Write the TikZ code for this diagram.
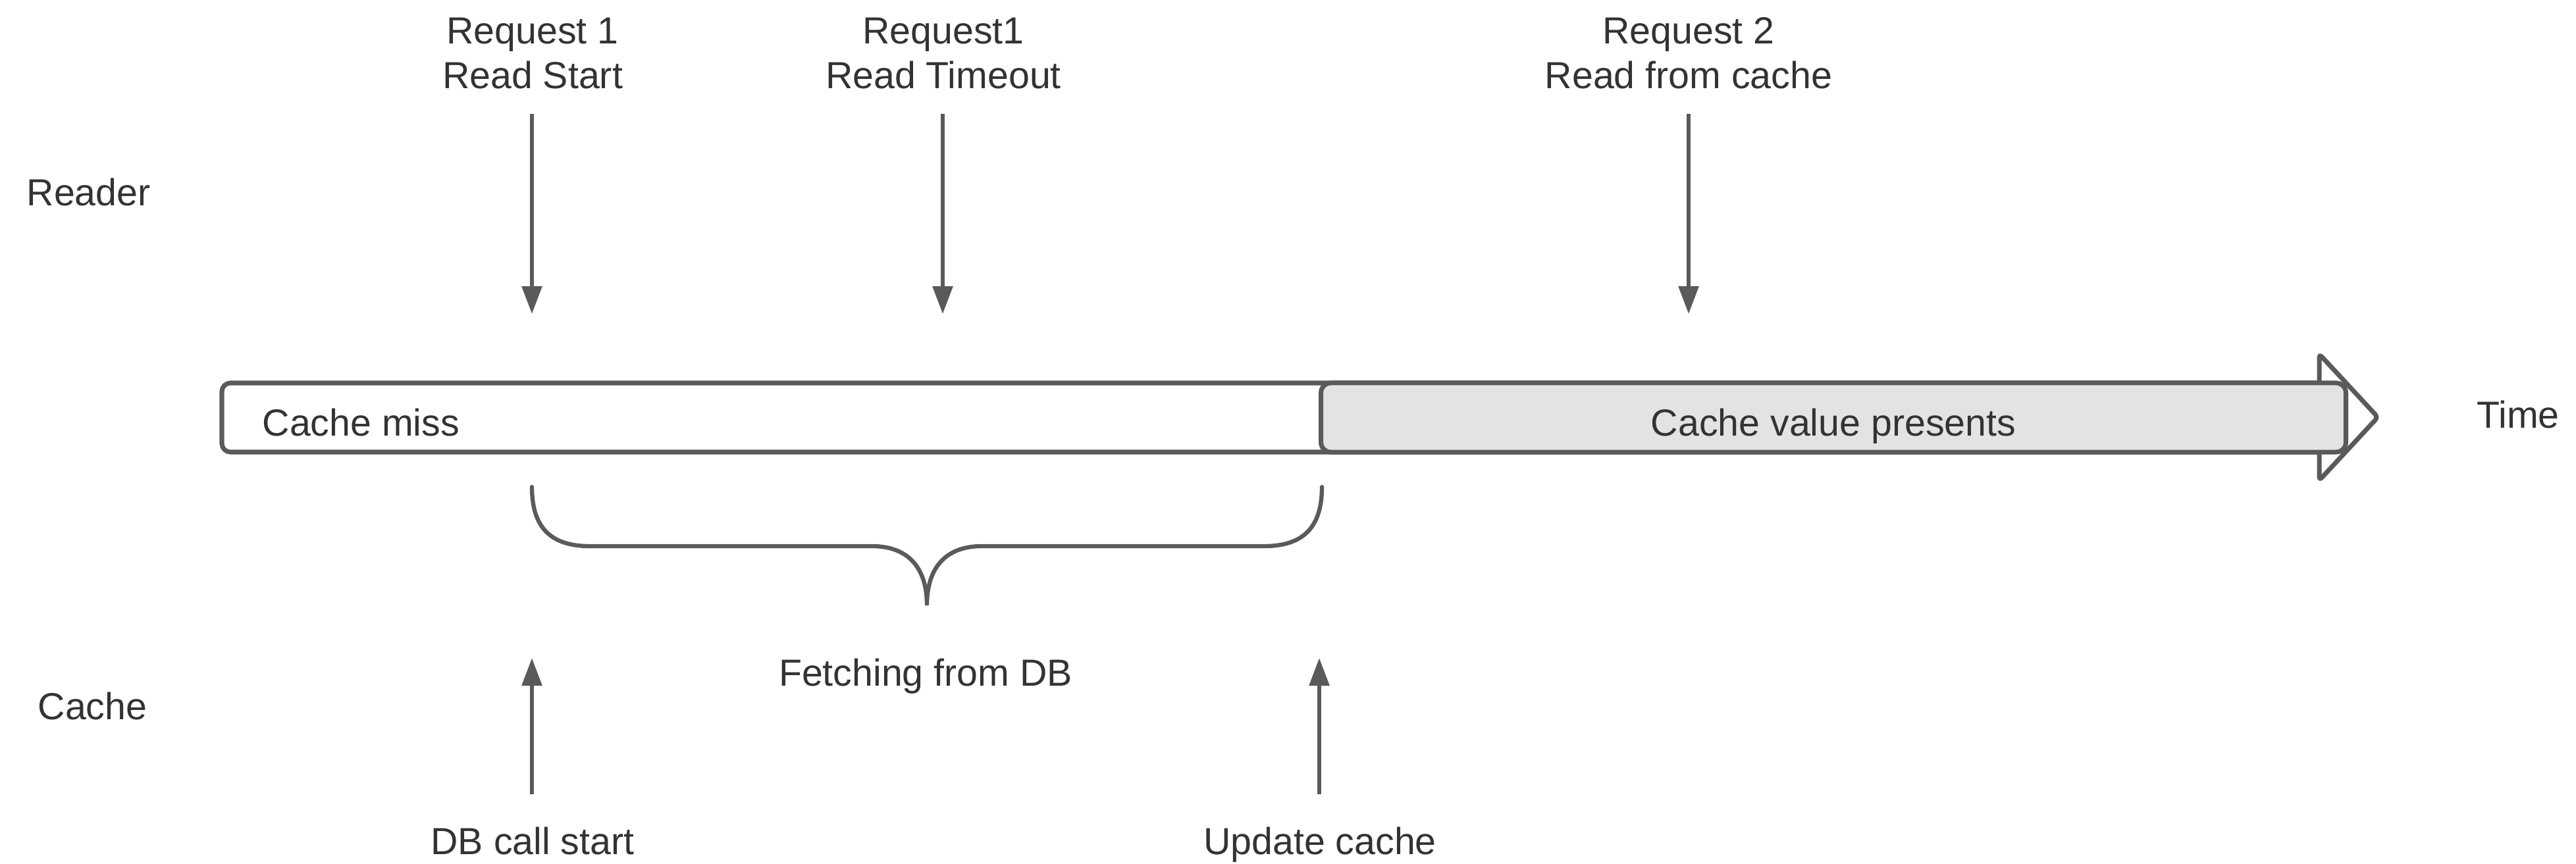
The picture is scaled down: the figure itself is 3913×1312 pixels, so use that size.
\documentclass[tikz,border=0pt]{standalone}
\usepackage{fontspec}
\setmainfont{Liberation Sans}
\usetikzlibrary{arrows.meta}
\definecolor{ln}{HTML}{5A5A5A}
\definecolor{tx}{HTML}{333333}
\definecolor{gf}{HTML}{E3E3E3}
\begin{document}
\begin{tikzpicture}[x=0.01cm,y=-0.01cm,
  lbl/.style={font=\fontsize{16.3}{19.35}\selectfont, text=tx, inner sep=0pt},
  arr/.style={draw=ln, line width=1.6pt, -{Triangle[width=0.3cm,length=0.42cm]}},
  barline/.style={draw=ln, line width=2pt}]
\useasboundingbox (0,0) rectangle (3913,1312);

% lane labels
\node[lbl, anchor=base west] (reader) at (40,312) {Reader};
\node[lbl, anchor=base west] (cachelane) at (57,1093) {Cache};

% timeline bar
\draw[barline, fill=white, rounded corners=0.13cm] (337,582) rectangle (3540,687);
\draw[barline, fill=white, line join=round, rounded corners=0.05cm] (3523,538) -- (3612,634) -- (3523,730) -- cycle;
\node[barline, fill=gf, rounded corners=0.15cm, minimum width=15.56cm, minimum height=1.05cm, inner sep=0pt] (present) at (2785,634.5) {};
\node[lbl, anchor=base west] (miss) at (398,662) {Cache miss};
\node[lbl, anchor=base] (cvp) at (2785,662) {Cache value presents};
\node[lbl, anchor=base] (time) at (3825,650) {Time};

% top requests
\node[lbl, align=center, anchor=north] (r1) at (809,26) {Request 1\\Read Start};
\node[lbl, align=center, anchor=north] (r2) at (1433,26) {Request1\\Read Timeout};
\node[lbl, align=center, anchor=north] (r3) at (2565,26) {Request 2\\Read from cache};
\coordinate (r1a) at (808,173);  \coordinate (r1b) at (808,477);
\coordinate (r2a) at (1432,173); \coordinate (r2b) at (1432,477);
\coordinate (r3a) at (2565,173); \coordinate (r3b) at (2565,477);
\draw[arr] (r1a) -- (r1b);
\draw[arr] (r2a) -- (r2b);
\draw[arr] (r3a) -- (r3b);

% brace
\draw[draw=ln, line width=1.8pt, line cap=round]
  (808,740) .. controls (808,800) and (835,830) .. (896,830) -- (1325,830)
  .. controls (1372,830) and (1408,855) .. (1408,920)
  .. controls (1408,855) and (1444,830) .. (1491,830) -- (1920,830)
  .. controls (1981,830) and (2008,800) .. (2008,740);
\node[lbl, anchor=base] (fetch) at (1406,1042) {Fetching from DB};

% bottom cache events
\node[lbl, anchor=base] (dbstart) at (809,1298) {DB call start};
\node[lbl, anchor=base] (upd) at (2005,1298) {Update cache};
\coordinate (c1a) at (808,1207);  \coordinate (c1b) at (808,1000);
\coordinate (c2a) at (2004,1207); \coordinate (c2b) at (2004,1000);
\draw[arr] (c1a) -- (c1b);
\draw[arr] (c2a) -- (c2b);
\end{tikzpicture}
\end{document}
